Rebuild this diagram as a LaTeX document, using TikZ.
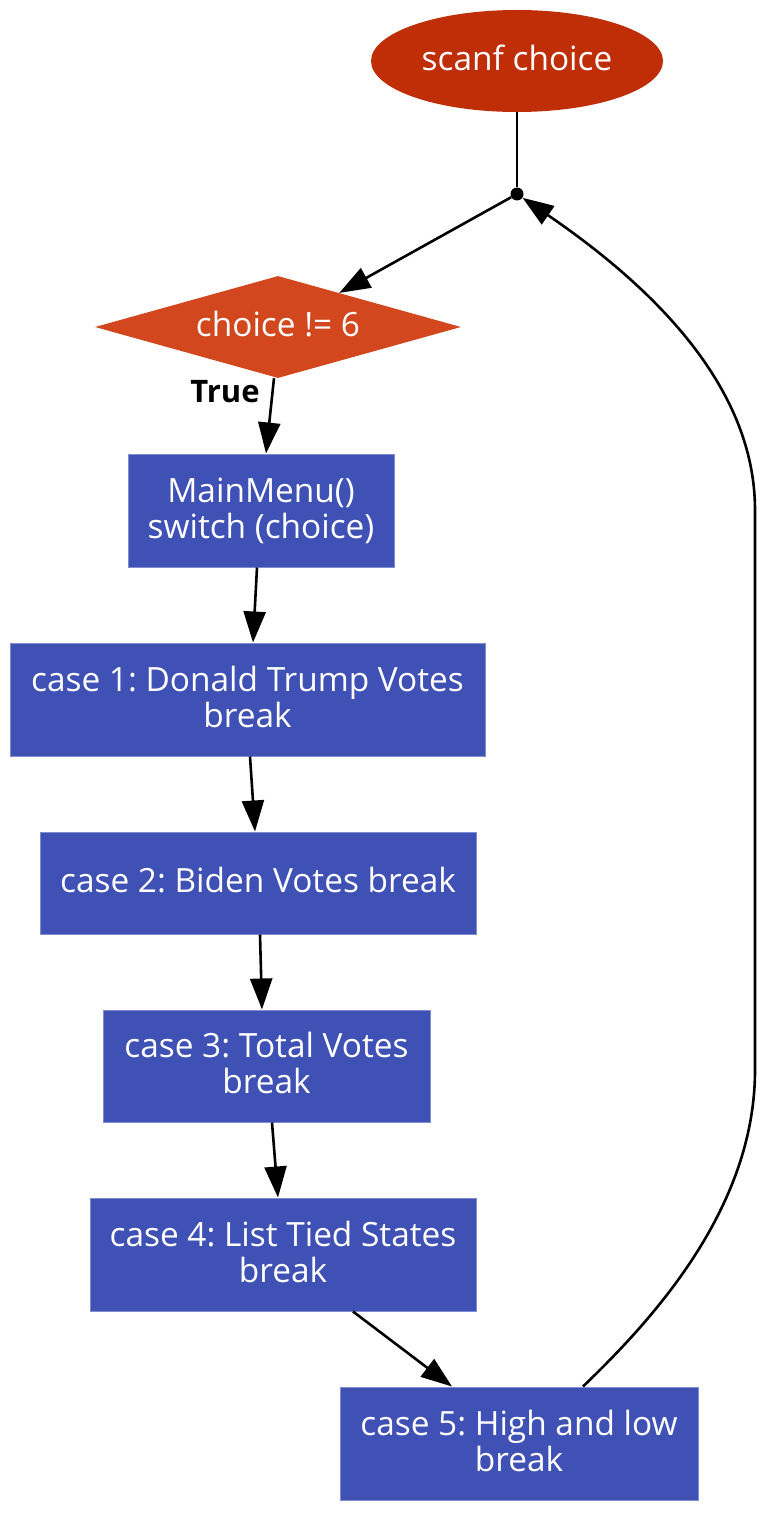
\documentclass[tikz,border=0pt]{standalone}
\usepackage{fontspec}
\setmainfont{Open Sans}
\frenchspacing
\usetikzlibrary{shapes.geometric,arrows.meta}
\definecolor{ellcol}{HTML}{BF2E07}
\definecolor{diacol}{HTML}{D2471E}
\definecolor{boxcol}{HTML}{4051B5}
\definecolor{boxedge}{HTML}{7F8CD0}
\tikzset{
  lbl/.style={font=\fontsize{33.4}{36}\selectfont, text=white, align=center, inner sep=0pt},
  boxnode/.style={lbl, rectangle, fill=boxcol, draw=boxedge, line width=1pt},
  lift/.style={text depth=6pt},
  edge/.style={line width=2.6pt, draw=black},
  arr/.style={edge, -{Triangle[length=31pt,width=22pt]}},
}
\begin{document}
\begin{tikzpicture}[x=1pt,y=-1pt]
\useasboundingbox (0,0) rectangle (781,1525);
\node[lbl, lift, ellipse, fill=ellcol, minimum width=292pt, minimum height=102pt] (ell) at (517,61) {scanf choice};
\node[circle, fill=black, inner sep=0pt, minimum size=13pt] (dot) at (517,194) {};
\node[lbl, lift, diamond, fill=diacol, aspect=3.59, minimum width=366pt, minimum height=102pt] (dia) at (278,327) {choice != 6};
\node[boxnode, minimum width=266pt, minimum height=113pt] (mm) at (261,510.5) {MainMenu()\\switch (choice)};
\node[boxnode, lift, minimum width=475pt, minimum height=113pt] (c1) at (247.5,699.5) {case 1: Donald Trump Votes\\break};
\node[boxnode, lift, minimum width=436pt, minimum height=102pt] (c2) at (258,883) {case 2: Biden Votes break};
\node[boxnode, lift, minimum width=327pt, minimum height=112pt] (c3) at (266.5,1066) {case 3: Total Votes\\break};
\node[boxnode, lift, minimum width=386pt, minimum height=113pt] (c4) at (283,1254.5) {case 4: List Tied States\\break};
\node[boxnode, lift, minimum width=358pt, minimum height=113pt] (c5) at (519,1443.5) {case 5: High and low\\break};
\node[font=\fontsize{31}{36}\selectfont\bfseries, inner sep=0pt] (truelbl) at (225,392) {True};

\draw[edge] (ell.south) -- (dot);
\draw[arr] (dot) -- (dia);
\draw[arr] ([xshift=-4pt]dia.south) -- ([xshift=5pt]mm.north);
\draw[arr] ([xshift=-4pt]mm.south) -- ([xshift=5.5pt]c1.north);
\draw[arr] ([xshift=2.5pt]c1.south) -- ([xshift=-3pt]c2.north);
\draw[arr] ([xshift=2pt]c2.south) -- ([xshift=-4.5pt]c3.north);
\draw[arr] ([xshift=5.5pt]c3.south) -- ([xshift=-5pt]c4.north);
\draw[arr] ([xshift=70pt]c4.south) -- ([xshift=-67pt]c5.north);
\coordinate (rb) at (755,1070);
\coordinate (rt) at (755,510);
\draw[arr] ([xshift=64pt]c5.north) .. controls (650,1322) and (755,1210) .. (rb) -- (rt) .. controls (755,385) and (650,285) .. (dot);
\end{tikzpicture}
\end{document}
